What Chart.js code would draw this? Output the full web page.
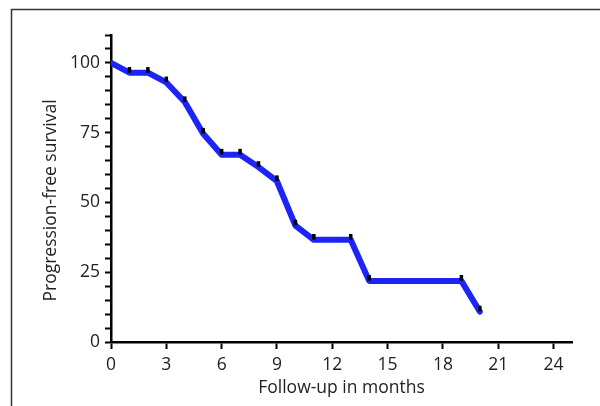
<!DOCTYPE html>
<html>
<head>
<meta charset="utf-8">
<script src="https://cdn.jsdelivr.net/npm/chart.js@4/dist/chart.umd.min.js"></script>
<style>
  body { margin: 0; background: #fff; }
</style>
</head>
<body>
<canvas id="chart" width="600" height="406"></canvas>
<script>
// survival curve (line)
const months = [0, 1, 2, 3, 4, 5, 6, 7, 8, 9, 10, 11, 13, 14, 19, 20];
const survival = [100, 96.5, 96.5, 93, 86, 74.6, 67.1, 67.1, 62.7, 57.6, 41.7, 36.6, 36.6, 21.9, 21.9, 10.9];

// censor marks
const censorMonths = [1, 2, 3, 4, 5, 6, 7, 8, 9, 10, 11, 13, 14, 19, 20];
const censorSurvival = [97.5, 97.5, 94.1, 87, 75.7, 68.2, 68.2, 63.8, 58.7, 42.8, 37.7, 37.7, 23, 23, 12];

const xTicks = [0, 3, 6, 9, 12, 15, 18, 21, 24];
const yTickLabels = [0, 25, 50, 75, 100];

const FONT = { family: '"Open Sans", sans-serif', size: 17.5 };
const TEXT = '#222';

function toPoints(xs, ys) {
    return xs.map((x, i) => ({ x: x, y: ys[i] }));
}

// outer frame + rotated y title (centred on 0..100 like the original)
const extras = {
    id: 'extras',
    beforeDraw(chart) {
        const ctx = chart.ctx;
        ctx.save();
        ctx.strokeStyle = '#333';
        ctx.lineWidth = 1.5;
        ctx.beginPath();
        ctx.moveTo(11.5, 406);
        ctx.lineTo(11.5, 9.5);
        ctx.lineTo(600, 9.5);
        ctx.stroke();
        ctx.restore();
    },
    afterDraw(chart) {
        const ctx = chart.ctx;
        const y = chart.scales.y;
        const cy = (y.getPixelForValue(0) + y.getPixelForValue(100)) / 2 - 2;
        ctx.save();
        ctx.translate(51, cy);
        ctx.rotate(-Math.PI / 2);
        ctx.font = FONT.size + 'px ' + FONT.family;
        ctx.fillStyle = TEXT;
        ctx.textAlign = 'center';
        ctx.textBaseline = 'middle';
        ctx.fillText('Progression-free survival', 0, 0);
        ctx.restore();
    }
};

const config = {
    type: 'line',
    data: {
        datasets: [
            {
                type: 'scatter',
                data: toPoints(censorMonths, censorSurvival),
                pointStyle: 'line',
                rotation: 90,
                pointRadius: 2.8,
                pointHoverRadius: 2.8,
                pointBorderWidth: 3.5,
                pointBorderColor: '#000',
                pointBackgroundColor: '#000',
                order: 0,
            },
            {
                data: toPoints(months, survival),
                borderColor: 'rgb(28, 36, 248)',
                borderWidth: 6,
                borderJoinStyle: 'round',
                borderCapStyle: 'round',
                tension: 0,
                pointRadius: 0,
                fill: false,
                order: 1,
            },
        ]
    },
    options: {
        responsive: false,
        animation: false,
        devicePixelRatio: 1,
        layout: { padding: { top: 35, right: 28, bottom: 0, left: 0 } },
        plugins: {
            legend: { display: false },
            tooltip: { enabled: false },
        },
        scales: {
            x: {
                type: 'linear',
                min: 0,
                max: 25,
                afterBuildTicks: (s) => { s.ticks = xTicks.map(v => ({ value: v })); },
                afterFit: (s) => { s.height = 64; },
                grid: { drawOnChartArea: false, drawTicks: true, tickLength: 7, tickWidth: 2, tickColor: '#000' },
                border: { color: '#000', width: 2.5 },
                ticks: { color: TEXT, font: FONT, padding: 6, maxRotation: 0, autoSkip: false },
                title: { display: true, text: 'Follow-up in months', color: TEXT, font: FONT, padding: { top: 0, bottom: 7 } },
            },
            y: {
                min: 0,
                max: 110,
                afterFit: (s) => { s.width = 111; },
                grid: { drawOnChartArea: false, drawTicks: true, tickLength: 6, tickWidth: 2, tickColor: '#000' },
                border: { color: '#000', width: 2.5 },
                ticks: {
                    stepSize: 5,
                    autoSkip: false,
                    color: TEXT,
                    font: FONT,
                    padding: 5,
                    callback: (v) => yTickLabels.includes(v) ? String(v) : '',
                },
            },
        },
    },
    plugins: [extras],
};

new Chart(document.getElementById('chart'), config);
</script>
</body>
</html>
